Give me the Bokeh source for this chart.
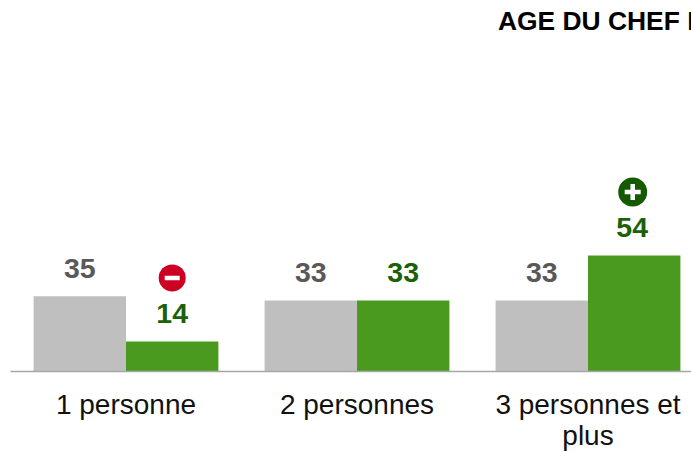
from bokeh.plotting import figure
from bokeh.models import Label, FixedTicker, Range1d
from bokeh.embed import file_html
from bokeh.resources import INLINE
from bokeh.core.properties import value

categories = ["1 personne", "2 personnes", "3 personnes et\nplus"]
ensemble = [35, 33, 33]
segment = [14, 33, 54]
minus_idx = [0]
plus_idx = [2]
title_text = "AGE DU CHEF D"

GREY, GREEN, DGREEN, RED, TXT = "#BFBFBF", "#4A9A1F", "#1A6108", "#CC0022", "#595959"
FONT = "Liberation Sans"
PX_PER_UNIT = 2.15
GW = 231.0  # px per category group
BW = 0.4
FW, FH = 681, 371

p = figure(width=691, height=452, output_backend="svg", toolbar_location=None,
           x_range=Range1d(0, FW / GW), y_range=Range1d(0, FH / PX_PER_UNIT),
           frame_width=FW, frame_height=FH,
           min_border_left=10, min_border_right=0, min_border_top=0, min_border_bottom=81)
p.outline_line_color = None
p.grid.visible = False
p.yaxis.visible = False
xa = p.xaxis[0]
centers = [i + 0.5 for i in range(len(categories))]
xa.ticker = FixedTicker(ticks=centers)
xa.major_label_overrides = dict(zip(centers, categories))
xa.major_tick_line_color = None
xa.minor_tick_line_color = None
xa.axis_line_color = "#A6A6A6"
xa.axis_line_width = 1.5
xa.major_label_text_font = FONT
xa.major_label_text_font_size = "28px"
xa.major_label_text_color = "#111111"
xa.major_label_text_line_height = 1.03
xa.major_label_standoff = 11
xa.major_label_orientation = "horizontal"

x1 = [c - BW / 2 for c in centers]
x2 = [c + BW / 2 for c in centers]
p.vbar(x=x1, top=ensemble, width=BW, color=GREY, line_color=None)
p.vbar(x=x2, top=segment, width=BW, color=GREEN, line_color=None)

p.text(x=x1, y=ensemble, text=[str(v) for v in ensemble], y_offset=-28,
       text_font=value(FONT), text_font_style="bold", text_font_size="28.5px",
       text_align="center", text_baseline="middle", text_color=TXT)
p.text(x=x2, y=segment, text=[str(v) for v in segment], y_offset=-28, x_offset=[0, 0, -2],
       text_font=value(FONT), text_font_style="bold", text_font_size="28.5px",
       text_align="center", text_baseline="middle", text_color=DGREEN)

icon_off = 63.5 / PX_PER_UNIT
mx = [x2[i] for i in minus_idx]
my = [segment[i] + icon_off for i in minus_idx]
px_ = [x2[i] - 1.5 / GW for i in plus_idx]
py = [segment[i] + icon_off for i in plus_idx]
p.scatter(mx, my, marker="circle", size=27, color=RED, line_color=None)
p.scatter(mx, my, marker="dash", size=15, line_color="white", line_width=4.5)
p.scatter(px_, py, marker="circle", size=29, color="#155A00", line_color=None)
p.scatter(px_, py, marker="cross", size=16, line_color="white", line_width=4.5)

p.add_layout(Label(x=487.5, y=FH - 20, x_units="screen", y_units="screen", text=title_text,
                   text_font=FONT, text_font_style="bold", text_font_size="26.4px",
                   text_color="#000000", text_baseline="middle"))

open("out.html", "w").write(file_html(p, INLINE))
